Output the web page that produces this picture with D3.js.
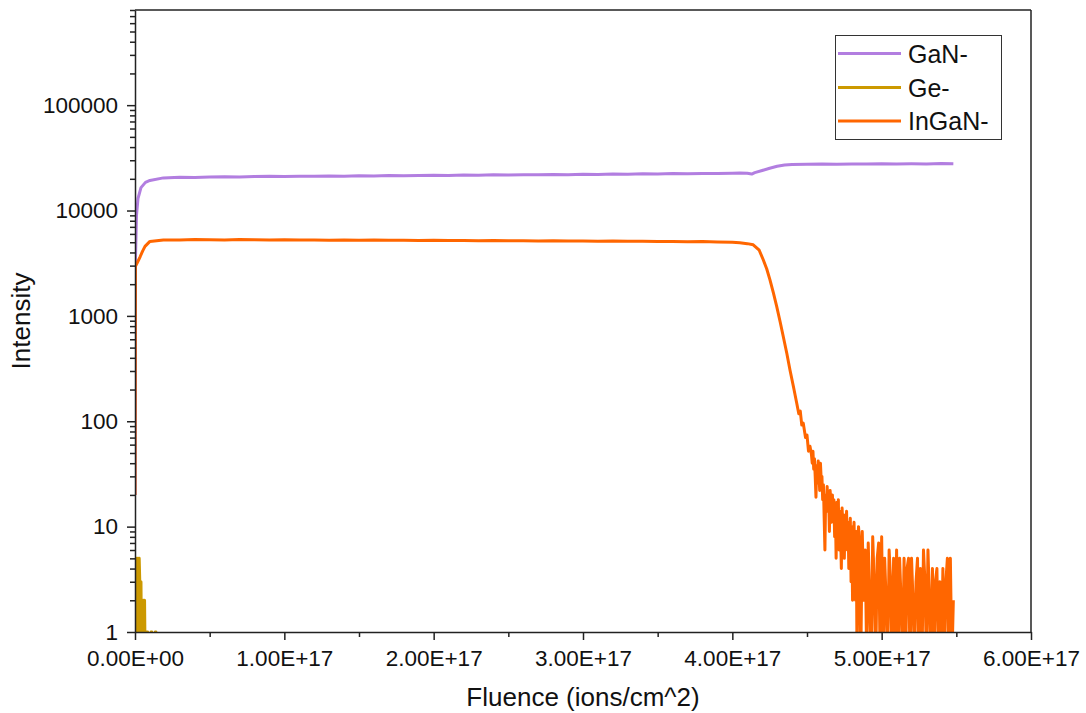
<!DOCTYPE html>
<html>
<head>
<meta charset="utf-8">
<script src="https://cdn.jsdelivr.net/npm/d3@7"></script>
<style>
  html, body { margin: 0; padding: 0; background: #fff; }
  svg { display: block; font-family: "Liberation Sans", Arial, sans-serif; }
</style>
</head>
<body>
<svg id="chart" width="1086" height="713"></svg>
<script>
// Fluence values are in units of 1e17 ions/cm^2
const ganFluence = [0, 0.003, 0.01, 0.02, 0.04, 0.07, 0.10, 0.19, 0.3, 0.4, 0.5, 0.6, 0.7, 0.8, 0.9, 1.0,
  1.1, 1.2, 1.3, 1.4, 1.5, 1.6, 1.7, 1.8, 1.9, 2.0, 2.1, 2.2, 2.3, 2.4, 2.5, 2.6, 2.7, 2.8, 2.9, 3.0,
  3.1, 3.2, 3.3, 3.4, 3.5, 3.6, 3.7, 3.8, 3.9, 4.0, 4.05, 4.1, 4.13, 4.15, 4.2, 4.25, 4.3, 4.35, 4.4,
  4.5, 4.6, 4.7, 4.8, 4.9, 5.0, 5.1, 5.2, 5.3, 5.4, 5.48];
const ganIntensity = [20, 3400, 9000, 13000, 16500, 18500, 19300, 20400, 20700, 20600, 20800, 20900, 20800, 21000, 21100, 21000,
  21200, 21100, 21300, 21200, 21400, 21300, 21500, 21400, 21500, 21600, 21500, 21700, 21600, 21800, 21700, 21900, 21800, 22000, 21900, 22100,
  22000, 22200, 22100, 22300, 22200, 22400, 22300, 22500, 22400, 22600, 22700, 22600, 22200, 22900, 24000, 25200, 26300, 27000, 27400,
  27500, 27600, 27500, 27700, 27600, 27800, 27700, 27800, 27700, 27900, 27800];

const geFluence = d3.range(0, 0.16, 0.004);
const geIntensity = [0, 0, 0, 5, 0, 5, 0, 5, 3, 0, 3, 0, 2, 0, 2, 0, 2, 0, 0, 0,
  1, 1, 0, 0, 0, 0, 0, 1, 1, 0, 0, 0, 0, 0, 1, 1, 0, 0, 0, 0];

// InGaN: rise, plateau and the drop-off at the interface
const inganFluence = [0, 0.003, 0.02, 0.035, 0.05, 0.067, 0.10, 0.19, 0.3, 0.4, 0.5, 0.6, 0.7, 0.8, 0.9, 1.0,
  1.1, 1.2, 1.3, 1.4, 1.5, 1.6, 1.7, 1.8, 1.9, 2.0, 2.1, 2.2, 2.3, 2.4, 2.5, 2.6, 2.7, 2.8, 2.9, 3.0,
  3.1, 3.2, 3.3, 3.4, 3.5, 3.6, 3.7, 3.8, 3.9, 4.0, 4.05, 4.10, 4.14, 4.18, 4.207, 4.23, 4.252, 4.275,
  4.297, 4.32, 4.341, 4.365, 4.386, 4.41, 4.431, 4.445, 4.455, 4.465, 4.475, 4.49, 4.50, 4.51, 4.52];
const inganIntensity = [20, 2950, 3300, 3660, 4100, 4570, 5090, 5260, 5250, 5300, 5280, 5260, 5300, 5270, 5250, 5280,
  5240, 5260, 5230, 5250, 5220, 5240, 5210, 5230, 5200, 5220, 5190, 5200, 5170, 5190, 5160, 5170, 5140, 5160, 5130, 5140,
  5110, 5130, 5100, 5110, 5080, 5090, 5060, 5070, 5030, 5000, 4950, 4850, 4730, 4200, 3410, 2800, 2200, 1650,
  1230, 880, 637, 440, 307, 210, 149, 118, 125, 92, 96, 70, 74, 52, 58];

// Noisy low-count tail near the interface, sampled every 0.005e17
const tailAFluence = d3.range(4.53, 4.8475, 0.005);
const tailAIntensity = [48, 40, 52, 35, 44, 30, 19,
  38, 26, 42, 33, 22, 40, 28,
  30, 18, 25, 12, 6, 20, 16,
  24, 14, 19, 9, 22, 17, 11,
  20, 13, 18, 8, 15, 5, 17,
  12, 18, 6, 14, 9, 4, 15,
  10, 13, 5, 12, 8, 14, 6,
  11, 4, 9, 12, 3, 10, 2,
  8, 11, 5, 2, 9, 0, 7, 10];

// Background-level counts, sampled every 0.01e17
const tailBFluence = d3.range(4.85, 5.485, 0.01);
const tailBIntensity = [8, 0, 9, 2, 6,
  0, 7, 2, 0, 8, 3, 0, 5, 7, 0,
  8, 0, 5, 2, 0, 6, 3, 0, 5, 0,
  6, 0, 5, 2, 0, 5, 0, 4, 5, 0,
  5, 2, 0, 3, 5, 0, 4, 0, 6, 3,
  0, 6, 2, 0, 4, 0, 3, 4, 0, 3,
  0, 4, 0, 3, 5, 0, 5, 0, 2];

const seriesNames = ["GaN-", "Ge-", "InGaN-"];
const seriesColors = ["#b27ee0", "#cc9900", "#ff6600"];

const xMajorTicks = [0, 1e17, 2e17, 3e17, 4e17, 5e17, 6e17];
const xMinorTicks = [0.5e17, 1.5e17, 2.5e17, 3.5e17, 4.5e17, 5.5e17];
const yMajorTicks = [1, 10, 100, 1000, 10000, 100000];

const svg = d3.select("#chart");
const W = 1086, H = 713;
const margin = { left: 135, right: 55, top: 10, bottom: 81 };
const pw = W - margin.left - margin.right;
const ph = H - margin.top - margin.bottom;

const x = d3.scaleLinear().domain([0, 6e17]).range([margin.left, margin.left + pw]);
const y = d3.scaleLog().domain([1, 8e5]).range([margin.top + ph, margin.top]);

const yMinorTicks = [];
[1, 10, 100, 1000, 10000, 100000].forEach(d => {
  for (let k = 2; k <= 9; k++) if (d * k <= 8e5) yMinorTicks.push(d * k);
});

svg.append("defs").append("clipPath").attr("id", "plotClip")
  .append("rect").attr("x", margin.left).attr("y", margin.top).attr("width", pw).attr("height", ph);

const toPoints = (fs, vs) => fs.map((f, i) => [f * 1e17, vs[i]]);
const series = [
  toPoints(ganFluence, ganIntensity),
  toPoints(geFluence, geIntensity),
  toPoints(inganFluence, inganIntensity)
    .concat(toPoints(tailAFluence, tailAIntensity))
    .concat(toPoints(tailBFluence, tailBIntensity))
];

// zero counts fall below the log axis and are clipped at the bottom edge
const line = d3.line()
  .x(d => x(d[0]))
  .y(d => y(Math.max(d[1], 0.5)));

const plot = svg.append("g").attr("clip-path", "url(#plotClip)");
series.forEach((pts, i) => {
  plot.append("path")
    .datum(pts)
    .attr("fill", "none")
    .attr("stroke", seriesColors[i])
    .attr("stroke-width", 3)
    .attr("stroke-linejoin", "round")
    .attr("d", line);
});

// frame
const axisColor = "#222";
svg.append("line").attr("x1", margin.left).attr("x2", margin.left + pw)
  .attr("y1", margin.top).attr("y2", margin.top).attr("stroke", axisColor).attr("stroke-width", 1.5);
svg.append("line").attr("x1", margin.left + pw).attr("x2", margin.left + pw)
  .attr("y1", margin.top).attr("y2", margin.top + ph).attr("stroke", axisColor).attr("stroke-width", 1.5);

const fmtX = v => v.toExponential(2).toUpperCase().replace(/E([+-])(\d)$/, "E$10$2");

function styleAxis(g) {
  g.select(".domain").attr("stroke", axisColor).attr("stroke-width", 1.5);
  g.selectAll(".tick line").attr("stroke", axisColor).attr("stroke-width", 1.5);
  g.selectAll(".tick text").attr("fill", "#111").style("font-size", "22.5px")
    .style("font-family", "'Liberation Sans', Arial, sans-serif");
}

// x axis
svg.append("g").attr("transform", `translate(0,${margin.top + ph})`)
  .call(d3.axisBottom(x).tickValues(xMinorTicks).tickSize(5).tickFormat(""))
  .call(g => { g.select(".domain").remove(); g.selectAll(".tick line").attr("stroke", axisColor).attr("stroke-width", 1.5); });
svg.append("g").attr("transform", `translate(0,${margin.top + ph})`)
  .call(d3.axisBottom(x).tickValues(xMajorTicks).tickSize(8).tickPadding(10).tickFormat(fmtX).tickSizeOuter(0))
  .call(styleAxis);

// y axis
svg.append("g").attr("transform", `translate(${margin.left},0)`)
  .call(d3.axisLeft(y).tickValues(yMinorTicks).tickSize(5).tickFormat(""))
  .call(g => { g.select(".domain").remove(); g.selectAll(".tick line").attr("stroke", axisColor).attr("stroke-width", 1.5); });
svg.append("g").attr("transform", `translate(${margin.left},0)`)
  .call(d3.axisLeft(y).tickValues(yMajorTicks).tickSize(8).tickPadding(9).tickFormat(d3.format("d")).tickSizeOuter(0))
  .call(styleAxis);

// axis titles
svg.append("text")
  .attr("x", margin.left + pw / 2).attr("y", 706)
  .attr("text-anchor", "middle").style("font-size", "26px").attr("fill", "#111")
  .text("Fluence (ions/cm^2)");
svg.append("text")
  .attr("transform", `translate(30,${margin.top + ph / 2}) rotate(-90)`)
  .attr("text-anchor", "middle").style("font-size", "26px").attr("fill", "#111")
  .text("Intensity");

// legend
const legend = svg.append("g");
legend.append("rect").attr("x", 835.5).attr("y", 35.5).attr("width", 166).attr("height", 104)
  .attr("fill", "#fff").attr("stroke", "#333").attr("stroke-width", 1);
const legendRows = [53.5, 87.5, 121];
seriesNames.forEach((name, i) => {
  legend.append("line").attr("x1", 838).attr("x2", 901)
    .attr("y1", legendRows[i]).attr("y2", legendRows[i])
    .attr("stroke", seriesColors[i]).attr("stroke-width", 3);
  legend.append("text").attr("x", 908).attr("y", legendRows[i]).attr("dy", "0.36em")
    .style("font-size", "25px").attr("fill", "#111").text(name);
});
</script>
</body>
</html>
